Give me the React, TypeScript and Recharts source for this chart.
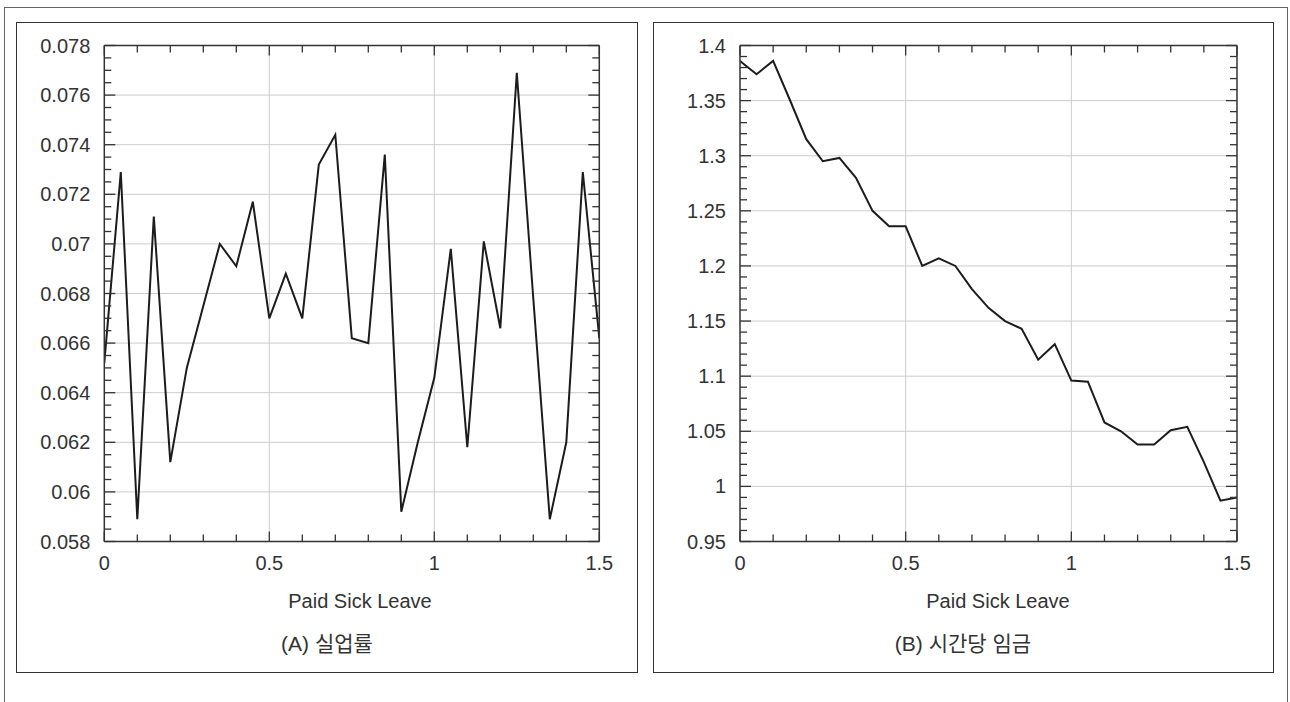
import React from 'react';
import { LineChart, Line, XAxis, YAxis, CartesianGrid } from 'recharts';

// ---- data ----
const sickLeave = [
  0, 0.05, 0.1, 0.15, 0.2, 0.25, 0.3, 0.35, 0.4, 0.45,
  0.5, 0.55, 0.6, 0.65, 0.7, 0.75, 0.8, 0.85, 0.9, 0.95,
  1.0, 1.05, 1.1, 1.15, 1.2, 1.25, 1.3, 1.35, 1.4, 1.45, 1.5,
];
const unemployment = [
  0.0652, 0.0729, 0.0589, 0.0711, 0.0612, 0.0650, 0.0675, 0.0700, 0.0691, 0.0717,
  0.0670, 0.0688, 0.0670, 0.0732, 0.0744, 0.0662, 0.0660, 0.0736, 0.0592, 0.0620,
  0.0646, 0.0698, 0.0618, 0.0701, 0.0666, 0.0769, 0.0678, 0.0589, 0.0620, 0.0729, 0.0662,
];
const hourlyWage = [
  1.386, 1.374, 1.386, 1.351, 1.315, 1.295, 1.298, 1.280, 1.250, 1.236,
  1.236, 1.200, 1.207, 1.200, 1.179, 1.162, 1.150, 1.143, 1.115, 1.129,
  1.096, 1.095, 1.058, 1.050, 1.038, 1.038, 1.051, 1.054, 1.022, 0.987, 0.990,
];

// ---- ticks ----
const xMajorTicks = [0, 0.5, 1, 1.5];
const aYMajorTicks = [0.058, 0.06, 0.062, 0.064, 0.066, 0.068, 0.07, 0.072, 0.074, 0.076, 0.078];
const bYMajorTicks = [0.95, 1, 1.05, 1.1, 1.15, 1.2, 1.25, 1.3, 1.35, 1.4];

const steps = (start: number, stop: number, step: number) => {
  const out: number[] = [];
  const n = Math.round((stop - start) / step);
  for (let i = 0; i <= n; i++) out.push(Number((start + i * step).toFixed(6)));
  return out;
};
const xMinorTicks = steps(0, 1.5, 0.1);
const aYMinorTicks = steps(0.058, 0.078, 0.0005);
const bYMinorTicks = steps(0.95, 1.4, 0.01);

const xLabel = 'Paid Sick Leave';
const captionA = '(A) 실업률';
const captionB = '(B) 시간당 임금';

const dataA = sickLeave.map((x, i) => ({ x, y: unemployment[i] }));
const dataB = sickLeave.map((x, i) => ({ x, y: hourlyWage[i] }));

const FONT = '"Liberation Sans", Arial, sans-serif';
const KFONT = '"Liberation Sans", "Noto Sans CJK KR", sans-serif';
const AXIS = '#333';
const LABEL = '#333';
const MARGIN = 14;
const MINOR = 7;
const MAJOR = 11;
const fmt = (v: number) => String(Number(Number(v).toFixed(4)));
const isIn = (list: number[], v: number) => list.some((m) => Math.abs(m - v) < 1e-9);

// left axis: label (majors only) + inward tick
const leftTick = (majors: number[]) => (props: any) => {
  const { x, y, payload } = props;
  const v = payload.value;
  const major = isIn(majors, v);
  const ax = x + MARGIN;
  return (
    <g>
      <line x1={ax} x2={ax + (major ? MAJOR : MINOR)} y1={y} y2={y} stroke={AXIS} strokeWidth={1.3} />
      {major && (
        <text x={x} y={y} dy="0.355em" textAnchor="end" fontSize={20} fill={LABEL} fontFamily={FONT}>
          {fmt(v)}
        </text>
      )}
    </g>
  );
};
// bottom axis: label (majors only) + inward tick
const bottomTick = (props: any) => {
  const { x, y, payload } = props;
  const v = payload.value;
  const major = isIn(xMajorTicks, v);
  const ay = y - MARGIN;
  return (
    <g>
      <line x1={x} x2={x} y1={ay} y2={ay - (major ? 10 : MINOR)} stroke={AXIS} strokeWidth={1.3} />
      {major && (
        <text x={x} y={y} dy="0.71em" textAnchor="middle" fontSize={20} fill={LABEL} fontFamily={FONT}>
          {fmt(v)}
        </text>
      )}
    </g>
  );
};
// top mirror axis: inward ticks only
const topTick = (props: any) => {
  const { x, y, payload } = props;
  const major = isIn(xMajorTicks, payload.value);
  return <line x1={x} x2={x} y1={y} y2={y + (major ? 10 : MINOR)} stroke={AXIS} strokeWidth={1.3} />;
};
// right mirror axis: inward ticks only
const rightTick = (majors: number[]) => (props: any) => {
  const { x, y, payload } = props;
  const major = isIn(majors, payload.value);
  return <line x1={x} x2={x - (major ? MAJOR : MINOR)} y1={y} y2={y} stroke={AXIS} strokeWidth={1.3} />;
};

type PanelProps = {
  left: number;
  width: number;
  margin: { top: number; right: number; bottom: number; left: number };
  data: { x: number; y: number }[];
  yDomain: [number, number];
  yMajor: number[];
  yMinor: number[];
};

function Panel({ left, width, margin, data, yDomain, yMajor, yMinor }: PanelProps) {
  const border = { stroke: AXIS, strokeWidth: 1.5 };
  return (
    <div style={{ position: 'absolute', left, top: 0 }}>
      <LineChart width={width} height={702} data={data} margin={margin}>
        <CartesianGrid
          stroke="#cccccc"
          strokeWidth={1}
          verticalValues={xMajorTicks.slice(1, -1)}
          horizontalValues={yMajor.slice(1, -1)}
        />
        <XAxis
          dataKey="x"
          type="number"
          domain={[0, 1.5]}
          allowDataOverflow
          ticks={xMinorTicks}
          interval={0}
          height={30}
          tickSize={0}
          tickMargin={MARGIN}
          tickLine={false}
          axisLine={border}
          tick={bottomTick}
        />
        <YAxis
          type="number"
          domain={yDomain}
          allowDataOverflow
          ticks={yMinor}
          interval={0}
          width={60}
          tickSize={0}
          tickMargin={MARGIN}
          tickLine={false}
          axisLine={border}
          tick={leftTick(yMajor)}
        />
        <XAxis
          xAxisId="top"
          dataKey="x"
          orientation="top"
          mirror
          type="number"
          domain={[0, 1.5]}
          allowDataOverflow
          ticks={xMinorTicks}
          interval={0}
          height={1}
          tickSize={0}
          tickMargin={0}
          tickLine={false}
          axisLine={border}
          tick={topTick}
        />
        <YAxis
          yAxisId="right"
          orientation="right"
          mirror
          type="number"
          domain={yDomain}
          allowDataOverflow
          ticks={yMinor}
          interval={0}
          width={1}
          tickSize={0}
          tickMargin={0}
          tickLine={false}
          axisLine={border}
          tick={rightTick(yMajor)}
        />
        <Line
          type="linear"
          dataKey="y"
          stroke="#1c1c1c"
          strokeWidth={2}
          dot={false}
          activeDot={false}
          isAnimationActive={false}
        />
      </LineChart>
    </div>
  );
}

export default function App() {
  return (
    <div style={{ position: 'absolute', left: 0, top: 0, width: 1290, height: 702, background: '#fff', overflow: 'hidden' }}>
      {/* outer frame */}
      <div style={{ position: 'absolute', left: 4, top: 7, width: 1284, height: 720, border: '1px solid #666', boxSizing: 'border-box' }} />
      {/* panel frames */}
      <div style={{ position: 'absolute', left: 16, top: 22, width: 622, height: 651, border: '1.5px solid #333', boxSizing: 'border-box' }} />
      <div style={{ position: 'absolute', left: 653, top: 22, width: 621, height: 651, border: '1.5px solid #333', boxSizing: 'border-box' }} />

      <Panel
        left={0}
        width={640}
        margin={{ top: 45.5, right: 40.7, bottom: 130.5, left: 44.3 }}
        data={dataA}
        yDomain={[0.058, 0.078]}
        yMajor={aYMajorTicks}
        yMinor={aYMinorTicks}
      />
      <Panel
        left={640}
        width={650}
        margin={{ top: 45.5, right: 53, bottom: 130.5, left: 40 }}
        data={dataB}
        yDomain={[0.95, 1.4]}
        yMajor={bYMajorTicks}
        yMinor={bYMinorTicks}
      />

      <svg style={{ position: 'absolute', left: 0, top: 0, pointerEvents: 'none' }} width={1290} height={702}>
        <text x={360} y={608} textAnchor="middle" fontSize={20} fill={LABEL} fontFamily={FONT}>{xLabel}</text>
        <text x={998} y={608} textAnchor="middle" fontSize={20} fill={LABEL} fontFamily={FONT}>{xLabel}</text>
        <text x={327} y={651} textAnchor="middle" fontSize={21} fill={LABEL} fontFamily={KFONT}>{captionA}</text>
        <text x={963} y={651} textAnchor="middle" fontSize={21} fill={LABEL} fontFamily={KFONT}>{captionB}</text>
      </svg>
    </div>
  );
}
